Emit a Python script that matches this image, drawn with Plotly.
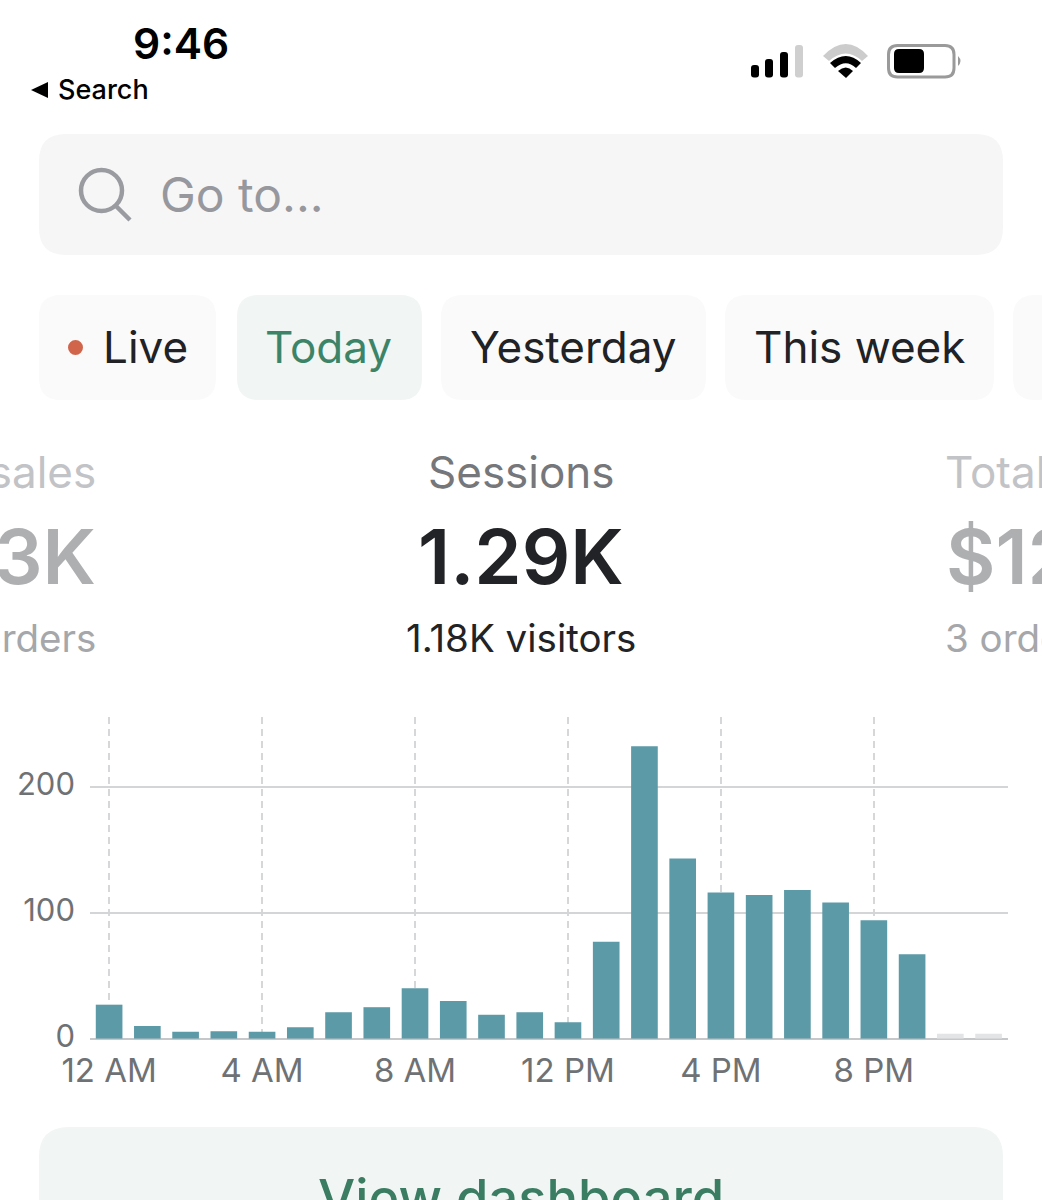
import plotly.graph_objects as go

# ---- data ----
hours = list(range(24))
sessions = [27, 10, 5.5, 6, 5.5, 9, 21, 25, 40, 30, 19, 21, 13, 77, 232, 143, 116, 114, 118, 108, 94, 67, None, None]
future_hours = [None] * 22 + [4, 4]
x_tick_hours = [0, 4, 8, 12, 16, 20]
x_tick_labels = ["12 AM", "4 AM", "8 AM", "12 PM", "4 PM", "8 PM"]
y_ticks = [0, 100, 200]

W, H = 1042, 1200
FONT = "Inter"
def X(p): return p / W
def Y(p): return 1 - p / H

def rrect(x0, y0, x1, y1, r, fill=None, line=None, lw=0):
    k = r
    d = (f"M{X(x0+k)},{Y(y0)} L{X(x1-k)},{Y(y0)} Q{X(x1)},{Y(y0)} {X(x1)},{Y(y0+k)} "
         f"L{X(x1)},{Y(y1-k)} Q{X(x1)},{Y(y1)} {X(x1-k)},{Y(y1)} "
         f"L{X(x0+k)},{Y(y1)} Q{X(x0)},{Y(y1)} {X(x0)},{Y(y1-k)} "
         f"L{X(x0)},{Y(y0+k)} Q{X(x0)},{Y(y0)} {X(x0+k)},{Y(y0)} Z")
    return dict(type="path", path=d, xref="paper", yref="paper", layer="below",
                fillcolor=fill or "rgba(0,0,0,0)",
                line=dict(color=line or "rgba(0,0,0,0)", width=lw))

def poly(pts_path, fill):
    out = []
    for tok in pts_path:
        if isinstance(tok, str):
            out.append(tok)
        else:
            out.append(f"{X(tok[0])},{Y(tok[1])}")
    return dict(type="path", path=" ".join(out) + " Z", xref="paper", yref="paper", layer="below",
                fillcolor=fill, line=dict(width=0, color="rgba(0,0,0,0)"))

shapes = [
    rrect(39, 134, 1003, 255, 27, "#f6f6f7"),
    rrect(39, 295, 216, 400, 22, "#fafafa"),
    rrect(237, 295, 422, 400, 22, "#f1f5f4"),
    rrect(441, 295, 706, 400, 22, "#fafafa"),
    rrect(725, 295, 994, 400, 22, "#fafafa"),
    rrect(1013, 295, 1060, 400, 22, "#fafafa"),
    rrect(39, 1127, 1003, 1240, 30, "#f1f5f4"),
    # status bar: signal
    rrect(751, 65, 759, 77.5, 3, "#000000"),
    rrect(765, 59, 773, 77.5, 3, "#000000"),
    rrect(780, 52, 788, 77.5, 3, "#000000"),
    rrect(795, 45, 803, 77.5, 3, "#cfcfcf"),
    # wifi
    poly(["M", (823, 56), "Q", (846, 32), (868, 56), "L", (862, 61), "Q", (846, 46), (829, 61)], "#cccccc"),
    poly(["M", (830, 63), "Q", (846, 49), (861, 63), "L", (856, 68), "Q", (846, 58.5), (835, 68)], "#000000"),
    poly(["M", (838, 71), "Q", (846, 64), (853, 71), "L", (846, 78)], "#000000"),
    # battery
    rrect(888.5, 45.5, 954, 77, 9, None, "#9a9a9a", 3),
    rrect(894, 49, 924, 73, 5, "#000000"),
    poly(["M", (958, 56), "Q", (963, 61), (958, 66)], "#9a9a9a"),
    # back triangle
    poly(["M", (48, 82), "L", (48, 98), "L", (31, 90)], "#000000"),
    # search icon
    dict(type="circle", xref="paper", yref="paper", layer="below", x0=X(81), x1=X(122), y0=Y(211), y1=Y(170),
         line=dict(color="#9a9ba0", width=4.5), fillcolor="rgba(0,0,0,0)"),
    dict(type="line", xref="paper", yref="paper", layer="below", x0=X(115), y0=Y(205), x1=X(130), y1=Y(220),
         line=dict(color="#9a9ba0", width=4.5)),
    # live dot
    dict(type="circle", xref="paper", yref="paper", layer="below", x0=X(68), x1=X(83), y0=Y(355), y1=Y(340),
         fillcolor="#d1654c", line=dict(width=0)),
]

def txt(s, x, y, size, color, anchor="center", weight=400):
    return dict(text=s, x=X(x), y=Y(y), xref="paper", yref="paper", xanchor=anchor, yanchor="middle",
                showarrow=False, align=anchor if anchor != "center" else "center",
                font=dict(family=FONT, size=size, color=color, weight=weight))

annotations = [
    txt("9:46", 181, 43, 42.5, "#000000", weight=600),
    txt("Search", 56, 90, 27, "#000000", "left", 500),
    txt("Go to...", 158, 195, 48, "#97989e", "left"),
    txt("Live", 101, 347.5, 44, "#202225", "left"),
    txt("Today", 328.5, 347.5, 44, "#3c8468"),
    txt("Yesterday", 573.5, 347.5, 44, "#202225"),
    txt("This week", 859, 347.5, 44, "#202225"),
    txt("Sessions", 521, 472, 44, "#75777b"),
    txt("1.29K", 521, 556, 76, "#222326", weight=600),
    txt("1.18K visitors", 521, 638, 38.5, "#222326"),
    txt("Total sales", 98, 472, 44, "#c2c3c6", "right"),
    txt("$1.23K", 98, 556, 76, "#aeafb1", "right", 600),
    txt("3 orders", 98, 638, 38.5, "#a5a7aa", "right"),
    txt("Total sales", 943, 472, 44, "#c2c3c6", "left"),
    txt("$123.45", 944, 556, 76, "#aeafb1", "left", 600),
    txt("3 orders", 943, 638, 38.5, "#a5a7aa", "left"),
    txt("View dashboard", 521, 1198, 52.5, "#3a7d63", weight=500),
]

fig = go.Figure()
fig.add_trace(go.Bar(x=hours, y=sessions, marker=dict(color="#5c9aa7", line=dict(width=0)), name="Sessions"))
fig.add_trace(go.Bar(x=hours, y=future_hours, marker=dict(color="#e3e4e5", line=dict(width=0)), name="Upcoming"))

tick_font = dict(family=FONT, size=31, color="#6f7275")
x_tick_font = dict(family=FONT, size=33, color="#6f7275")
fig.update_layout(
    width=W, height=H, margin=dict(l=0, r=0, t=0, b=0), autosize=False,
    paper_bgcolor="#ffffff", plot_bgcolor="rgba(0,0,0,0)", showlegend=False,
    barmode="overlay", bargap=0.303, shapes=shapes, annotations=annotations,
    xaxis=dict(domain=[X(90), X(1007.7)], range=[-0.5, 23.5], tickmode="array",
               tickvals=x_tick_hours, ticktext=x_tick_labels, tickfont=x_tick_font,
               showgrid=True, gridcolor="#d6d7d8", gridwidth=1.5, griddash="7px,5px",
               ticks="", zeroline=False, showline=False, ticklabelstandoff=9, automargin=False),
    yaxis=dict(domain=[Y(1038.7), Y(717)], range=[0, 255.3], tickmode="array",
               tickvals=y_ticks, ticktext=[str(v) for v in y_ticks], tickfont=tick_font,
               showgrid=True, gridcolor="#d4d5d6", gridwidth=1.5, ticks="",
               zeroline=True, zerolinecolor="#c6c7c9", zerolinewidth=2,
               showline=False, ticklabelstandoff=14, ticklabelshift=-3, automargin=False),
)
fig.write_html("out.html", config=dict(displayModeBar=False),
               post_script="document.body.style.margin='0';document.documentElement.style.overflow='hidden';")
